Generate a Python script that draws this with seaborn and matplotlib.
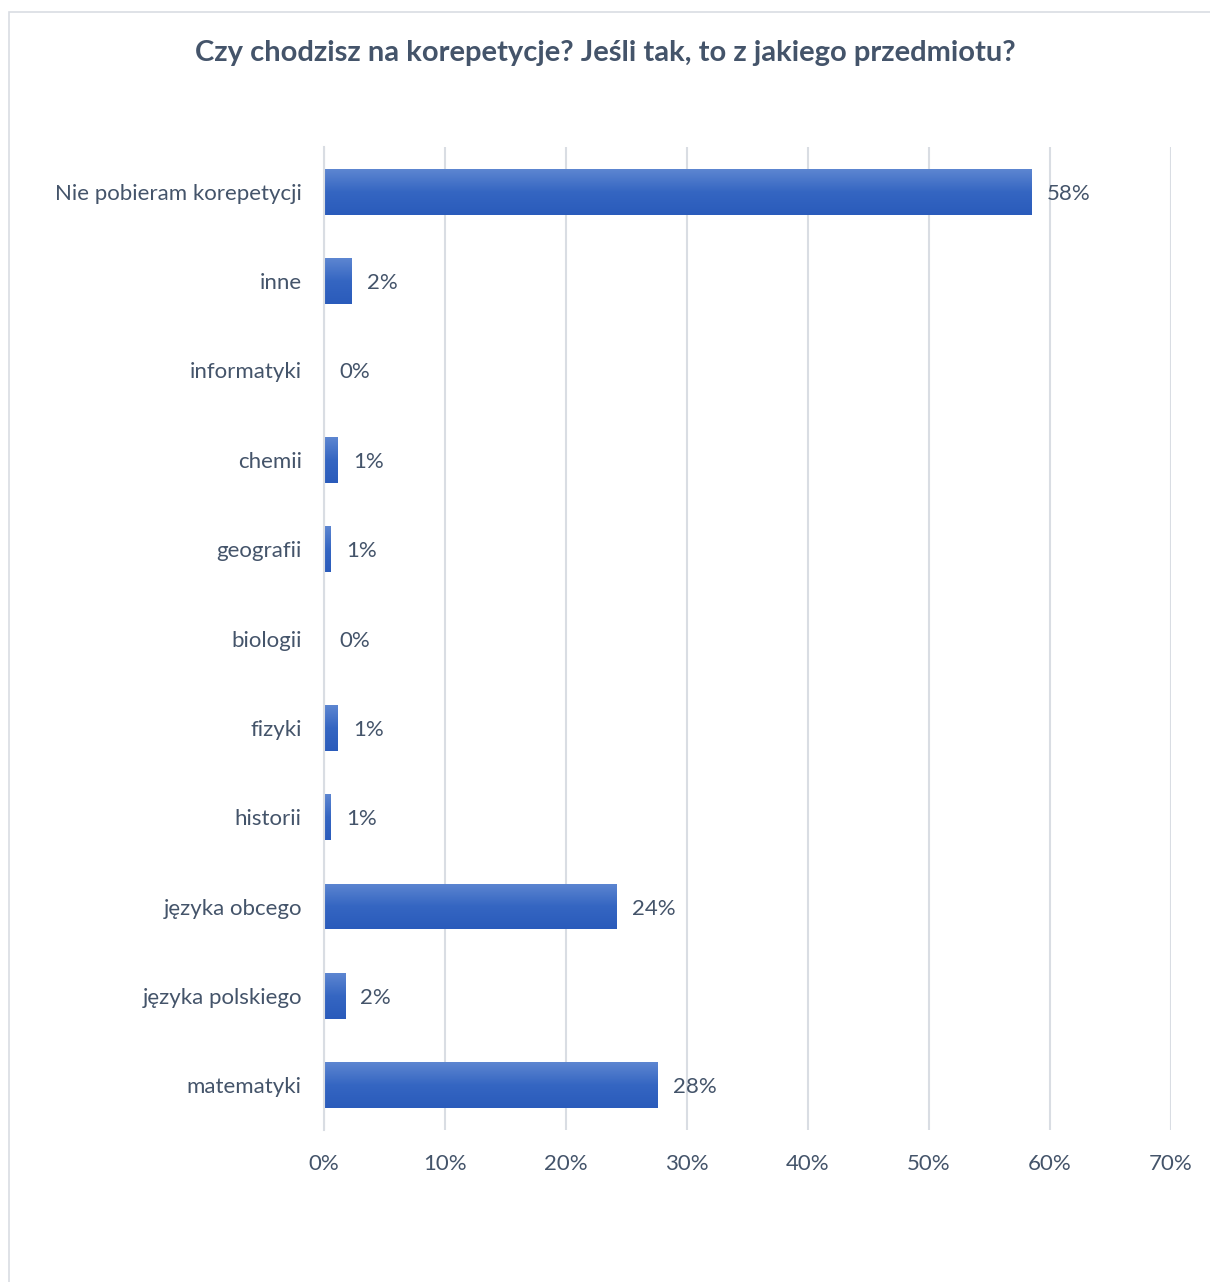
import numpy as np
import pandas as pd
import seaborn as sns
import matplotlib.pyplot as plt
from matplotlib.colors import LinearSegmentedColormap
from matplotlib.patches import Rectangle

# values (bar lengths), labels are the rounded ones shown
categories = ["Nie pobieram korepetycji", "inne", "informatyki", "chemii", "geografii",
              "biologii", "fizyki", "historii", "języka obcego", "języka polskiego",
              "matematyki"]
shares = [58.5, 2.3, 0.0, 1.15, 0.55, 0.0, 1.15, 0.55, 24.2, 1.75, 27.6]
shown_labels = ["58%", "2%", "0%", "1%", "1%", "0%", "1%", "1%", "24%", "2%", "28%"]
x_ticks = [0, 10, 20, 30, 40, 50, 60, 70]

title = "Czy chodzisz na korepetycje? Jeśli tak, to z jakiego przedmiotu?"
text_col = "#44546a"
grid_col = "#d9dde3"

df = pd.DataFrame({"kategoria": categories, "udzial": shares})

sns.set_theme(style="white")
plt.rcParams["font.family"] = ["Lato", "DejaVu Sans"]

fig = plt.figure(figsize=(12.1, 12.82), dpi=100)
ax = fig.add_axes([0.2678, 0.1186, 0.70, 0.7667])

# outer chart frame like the office chart border
fig.patches.append(Rectangle((9 / 1210, -0.05), 1.1, 1 - 12 / 1282 + 0.05,
                             transform=fig.transFigure, fill=False,
                             edgecolor="#d9dde3", linewidth=1.2))

sns.barplot(data=df, y="kategoria", x="udzial", orient="h", color="#4472c4",
            width=0.51, ax=ax, zorder=3)

# gradient fill on every bar (lighter top, darker bottom)
cmap = LinearSegmentedColormap.from_list("grad", ["#5d86d1", "#3566c2", "#2a5bbb"])
grad = np.linspace(0, 1, 256).reshape(-1, 1)
for bar in ax.patches:
    w = bar.get_width()
    if w <= 0:
        bar.set_visible(False)
        continue
    x0, y0, h = bar.get_x(), bar.get_y(), bar.get_height()
    img = ax.imshow(grad, cmap=cmap, aspect="auto", extent=(x0, x0 + w, y0 + h, y0),
                    zorder=3.5, interpolation="bicubic")
    img.set_clip_path(bar)
    bar.set_edgecolor("none")

labels = ax.bar_label(ax.containers[0], labels=shown_labels, padding=11, fontsize=16,
                      color=text_col)
for t in labels:
    t.set_va("center_baseline")

ax.set_xlim(0, 70)
ax.set_ylim(len(categories) - 0.5, -0.5)
ax.set_xticks(x_ticks)
ax.set_xticklabels([f"{t}%" for t in x_ticks])
ax.xaxis.grid(True, color=grid_col, linewidth=1.5, zorder=0)
ax.set_axisbelow(True)
ax.set_xlabel("")
ax.set_ylabel("")

ax.tick_params(axis="both", length=0, labelsize=16, labelcolor=text_col)
ax.tick_params(axis="y", pad=16)
ax.tick_params(axis="x", pad=17)

for side in ["top", "right", "bottom"]:
    ax.spines[side].set_visible(False)
ax.spines["left"].set_color(grid_col)
ax.spines["left"].set_linewidth(1.5)
ax.spines["left"].set_zorder(4)

fig.text(0.5, 1 - 53 / 1282, title, ha="center", va="center", fontsize=21,
         fontweight="bold", color=text_col)

fig.savefig("out.png", dpi=100, facecolor="white")
